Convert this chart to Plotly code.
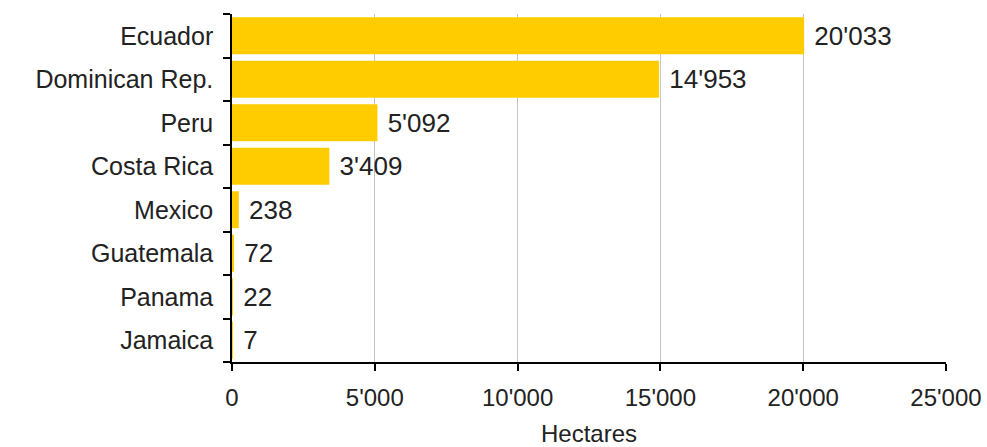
import plotly.graph_objects as go

countries = ["Ecuador", "Dominican Rep.", "Peru", "Costa Rica", "Mexico", "Guatemala", "Panama", "Jamaica"]
hectares = [20033, 14953, 5092, 3409, 238, 72, 22, 7]
tick_vals = [0, 5000, 10000, 15000, 20000, 25000]

def fmt(v):
    return f"{v:,}".replace(",", "'")

labels = [" " + fmt(v) for v in hectares]

fig = go.Figure(go.Bar(
    x=hectares, y=countries, orientation="h",
    marker=dict(color="#FFCC00", line=dict(width=0)),
    width=0.85,
    text=labels, textposition="outside", cliponaxis=False,
    textfont=dict(family="Liberation Sans, Arial", size=26, color="#222222"),
))

fig.update_layout(
    width=987, height=447,
    margin=dict(l=232, r=41, t=14, b=85),
    plot_bgcolor="white", paper_bgcolor="white",
    showlegend=False,
    font=dict(family="Liberation Sans, Arial", size=22, color="#222222"),
    xaxis=dict(
        range=[0, 25000], tickvals=tick_vals, ticktext=[fmt(v) for v in tick_vals],
        showgrid=True, gridcolor="#c4c4c4", gridwidth=1,
        showline=True, linecolor="#000000", linewidth=1.5,
        ticks="outside", ticklen=7, tickcolor="#000000", tickwidth=1.5,
        zeroline=False, automargin=False,
        title=dict(text="Hectares", standoff=21, font=dict(size=24)),
        tickfont=dict(size=24), ticklabelstandoff=6,
    ),
    yaxis=dict(
        categoryorder="array", categoryarray=countries[::-1],
        showline=True, linecolor="#000000", linewidth=1.5,
        ticks="outside", ticklen=7, tickcolor="#000000", tickwidth=1.5,
        tickson="boundaries", showgrid=False, automargin=False,
        tickfont=dict(size=25), ticklabelstandoff=12,
    ),
)

fig.write_html("out.html")
